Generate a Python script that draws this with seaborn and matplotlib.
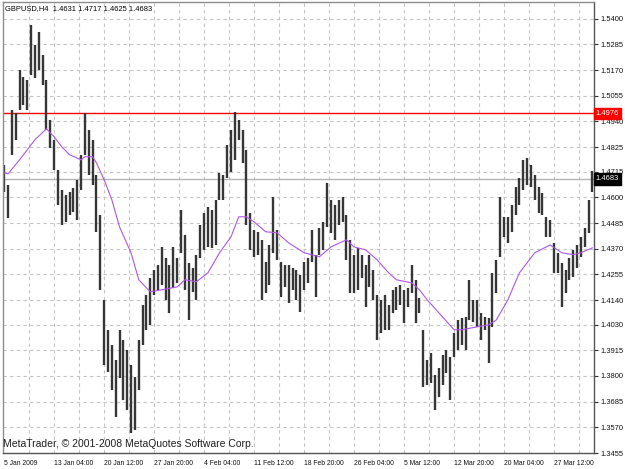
import matplotlib
matplotlib.use("Agg")
import matplotlib.pyplot as plt
import seaborn as sns
import pandas as pd

# ---------------- data ----------------
high = [
    1.4746, 1.4656, 1.4992, 1.4979, 1.5171, 1.5140, 1.5127, 1.5373, 1.5283, 1.5342,
    1.5239, 1.5127, 1.4947, 1.4858, 1.4723, 1.4634, 1.4611, 1.4625, 1.4643, 1.4679,
    1.4791, 1.4979, 1.4903, 1.4858, 1.4701, 1.4522, 1.4141, 1.4007, 1.3939, 1.3872,
    1.4007, 1.3962, 1.3917, 1.3850, 1.3796, 1.3962, 1.4119, 1.4163, 1.4240, 1.4275,
    1.4298, 1.4378, 1.4329, 1.4298, 1.4378, 1.4329, 1.4544, 1.4432, 1.4307, 1.4284,
    1.4343, 1.4477, 1.4531, 1.4558, 1.4544, 1.4589, 1.4710, 1.4701, 1.4835, 1.4903,
    1.4983, 1.4947, 1.4903, 1.4813, 1.4531, 1.4455, 1.4446, 1.4410, 1.4311, 1.4387,
    1.4602, 1.4455, 1.4311, 1.4298, 1.4298, 1.4284, 1.4275, 1.4253, 1.4311, 1.4329,
    1.4455, 1.4343, 1.4464, 1.4490, 1.4665, 1.4589, 1.4567, 1.4589, 1.4602, 1.4522,
    1.4410, 1.4343, 1.4374, 1.4343, 1.4298, 1.4343, 1.4275, 1.4163, 1.4141, 1.4163,
    1.4119, 1.4186, 1.4199, 1.4208, 1.4186, 1.4195, 1.4298, 1.4231, 1.4150, 1.4007,
    1.3872, 1.3904, 1.3805, 1.3836, 1.3895, 1.3917, 1.3886, 1.3993, 1.4051, 1.4060,
    1.4065, 1.4231, 1.4141, 1.4141, 1.4083, 1.4065, 1.4060, 1.4262, 1.4320, 1.4602,
    1.4513, 1.4513, 1.4567, 1.4647, 1.4688, 1.4768, 1.4777, 1.4746, 1.4701, 1.4647,
    1.4620, 1.4513, 1.4499, 1.4396, 1.4352, 1.4307, 1.4275, 1.4329, 1.4365, 1.4387,
    1.4423, 1.4464, 1.4589, 1.4717,
]
low = [
    1.4625, 1.4508, 1.4791, 1.4858, 1.4992, 1.5015, 1.4992, 1.5149, 1.5136, 1.5171,
    1.5104, 1.4903, 1.4822, 1.4723, 1.4567, 1.4477, 1.4490, 1.4522, 1.4535, 1.4499,
    1.4634, 1.4791, 1.4701, 1.4656, 1.4446, 1.4186, 1.3850, 1.3818, 1.3738, 1.3617,
    1.3792, 1.3693, 1.3648, 1.3545, 1.3559, 1.3738, 1.3939, 1.4007, 1.4029, 1.4163,
    1.4186, 1.4208, 1.4141, 1.4083, 1.4195, 1.4217, 1.4352, 1.4186, 1.4051, 1.4177,
    1.4141, 1.4329, 1.4365, 1.4378, 1.4374, 1.4387, 1.4589, 1.4589, 1.4688, 1.4714,
    1.4768, 1.4858, 1.4755, 1.4477, 1.4365, 1.4334, 1.4343, 1.4141, 1.4172, 1.4208,
    1.4352, 1.4320, 1.4154, 1.4199, 1.4128, 1.4186, 1.4141, 1.4087, 1.4186, 1.4217,
    1.4311, 1.4154, 1.4343, 1.4365, 1.4468, 1.4441, 1.4410, 1.4477, 1.4490, 1.4320,
    1.4172, 1.4172, 1.4186, 1.4240, 1.4110, 1.4199, 1.4141, 1.3962, 1.3993, 1.4007,
    1.4007, 1.4083, 1.4096, 1.4119, 1.4038, 1.4110, 1.4172, 1.4038, 1.4083, 1.3751,
    1.3760, 1.3769, 1.3648, 1.3706, 1.3760, 1.3814, 1.3693, 1.3886, 1.3917, 1.3939,
    1.3917, 1.4051, 1.4042, 1.4020, 1.3962, 1.4007, 1.3859, 1.4020, 1.4172, 1.4334,
    1.4423, 1.4396, 1.4446, 1.4522, 1.4567, 1.4634, 1.4656, 1.4647, 1.4589, 1.4531,
    1.4522, 1.4423, 1.4423, 1.4262, 1.4262, 1.4110, 1.4172, 1.4231, 1.4244, 1.4284,
    1.4334, 1.4378, 1.4441, 1.4625,
]
ma_idx = [0, 1, 4, 8, 11, 13, 15, 17, 20, 21, 23, 24, 26, 28, 30, 33, 35, 38, 41, 45,
          47, 50, 53, 56, 59, 61, 63, 65, 68, 71, 74, 78, 82, 85, 89, 91, 94, 97, 100,
          102, 106, 108, 110, 114, 117, 119, 123, 126, 128, 131, 134, 138, 142, 145,
          148, 150, 153]
ma_val = [1.4710, 1.4705, 1.4768, 1.4858, 1.4907, 1.4871, 1.4826, 1.4791, 1.4768, 1.4782,
          1.4782, 1.4755, 1.4679, 1.4589, 1.4468, 1.4352, 1.4231, 1.4177, 1.4186, 1.4199,
          1.4231, 1.4222, 1.4262, 1.4352, 1.4423, 1.4513, 1.4513, 1.4490, 1.4446, 1.4441,
          1.4396, 1.4352, 1.4334, 1.4378, 1.4410, 1.4378, 1.4365, 1.4320, 1.4262, 1.4231,
          1.4217, 1.4186, 1.4141, 1.4065, 1.4007, 1.4007, 1.4020, 1.4029, 1.4051, 1.4141,
          1.4262, 1.4352, 1.4387, 1.4352, 1.4343, 1.4352, 1.4374]
date_labels = ["5 Jan 2009", "13 Jan 04:00", "20 Jan 12:00", "27 Jan 20:00",
               "4 Feb 04:00", "11 Feb 12:00", "18 Feb 20:00", "26 Feb 04:00",
               "5 Mar 12:00", "12 Mar 20:00", "20 Mar 04:00", "27 Mar 12:00"]
price_ticks = [1.5400, 1.5285, 1.5170, 1.5055, 1.4940, 1.4825, 1.4715, 1.4600, 1.4485,
               1.4370, 1.4255, 1.4140, 1.4030, 1.3915, 1.3800, 1.3685, 1.3570, 1.3455]
symbol = "GBPUSD,H4"
last_ohlc = [1.4631, 1.4717, 1.4625, 1.4683]
level_line = 1.4976
copyright_text = "MetaTrader, \u00a9 2001-2008 MetaQuotes Software Corp."

# ---------------- style ----------------
sns.set_style("white")
plt.rcParams['font.family'] = ['Liberation Sans', 'DejaVu Sans']

bars = pd.DataFrame({"idx": range(len(high)), "high": high, "low": low})
ma = pd.DataFrame({"idx": ma_idx, "ma": ma_val})

fig = plt.figure(figsize=(6.25, 4.69), dpi=100)
fig.patch.set_facecolor("white")
ax = fig.add_axes([3 / 625, 16 / 469, 591 / 625, 451 / 469])
ax.set_facecolor("white")

ax.set_xlim(-0.3, 153.4)
ax.set_ylim(1.3455, 1.5475)

# grid
grid_kw = dict(color="#c4c4c4", lw=0.8, dashes=(3, 3), zorder=0)
for p in price_ticks:
    ax.axhline(p, **grid_kw)
step = 13
for k in range(1, 24):
    ax.axvline(k * step / 2, **grid_kw)

# horizontal level lines
ax.axhline(last_ohlc[3], color="#b4b4b4", lw=1.0, zorder=1)
ax.axhline(level_line, color="#ff0000", lw=1.0, zorder=1)

# bars
ax.vlines(bars["idx"], bars["low"], bars["high"], color="#363636", lw=1.7, zorder=2)

# moving average
sns.lineplot(data=ma, x="idx", y="ma", ax=ax, color="#b057e6", lw=0.8, zorder=3)
ax.set_xlabel("")
ax.set_ylabel("")

# axes ticks
ax.yaxis.tick_right()
ax.set_yticks(price_ticks)
ax.set_yticklabels([f"{p:.4f}" for p in price_ticks])
xt = [k * step for k in range(len(date_labels))]
ax.set_xticks(xt)
ax.set_xticklabels(date_labels, ha="left")
ax.tick_params(axis="both", which="major", length=3, width=0.8,
               color="#333333", labelcolor="#111111", direction="out")
ax.tick_params(axis="y", labelsize=5.4, pad=1.5)
ax.tick_params(axis="x", labelsize=4.9, pad=2)
for lab in ax.get_xticklabels():
    lab.set_horizontalalignment("left")

for s in ["left", "top"]:
    ax.spines[s].set_color("#8c8c8c")
    ax.spines[s].set_linewidth(1.0)
for s in ["right", "bottom"]:
    ax.spines[s].set_color("#555555")
    ax.spines[s].set_linewidth(1.0)

# price boxes on the right axis
tr = ax.get_yaxis_transform()
ax.text(1.003, level_line, f"{level_line:.4f}", transform=tr, color="white", fontsize=5.4,
        ha="left", va="center", zorder=10, clip_on=False,
        bbox=dict(facecolor="#ff0000", edgecolor="#ff0000", boxstyle="square,pad=0.3"))
ax.text(1.003, last_ohlc[3], f"{last_ohlc[3]:.4f}", transform=tr, color="white", fontsize=5.4,
        ha="left", va="center", zorder=10, clip_on=False,
        bbox=dict(facecolor="black", edgecolor="black", boxstyle="square,pad=0.3"))

# header and copyright
ax.text(0.004, 0.993, f"{symbol}  " + " ".join(f"{v:.4f}" for v in last_ohlc),
        transform=ax.transAxes, ha="left", va="top", fontsize=5.4, color="black", zorder=10)
ax.text(0.0, 0.008, copyright_text, transform=ax.transAxes, ha="left", va="bottom",
        fontsize=7.5, color="#202020", zorder=10)

fig.savefig("out.png", dpi=100)
